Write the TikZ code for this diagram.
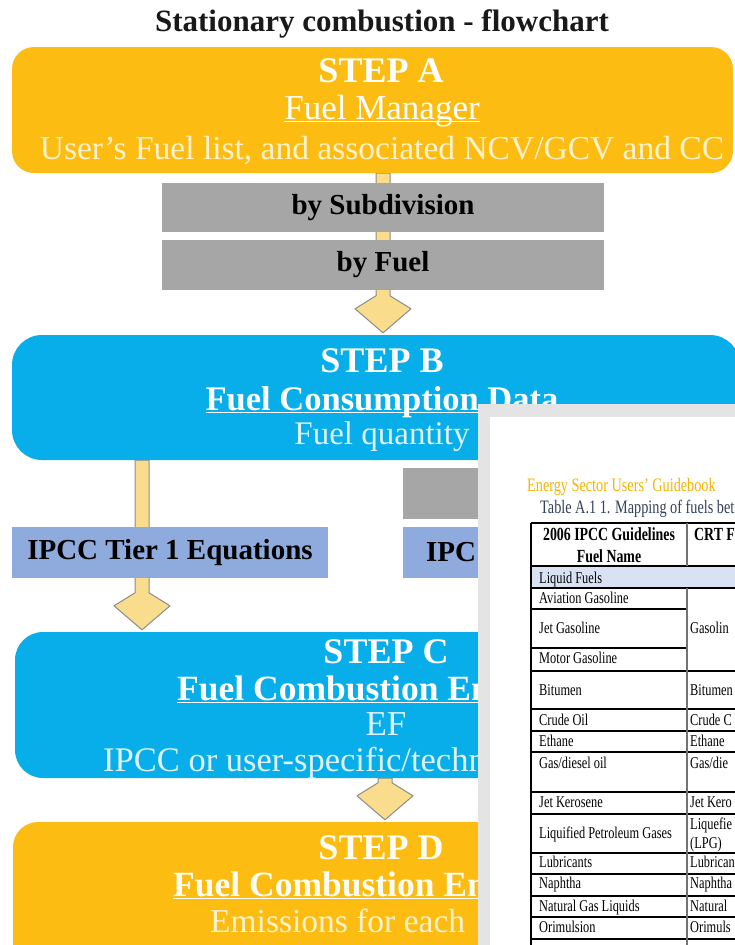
\documentclass[tikz,border=0pt]{standalone}
\usepackage{fontspec}
\setmainfont{Liberation Serif}
\newfontfamily\tabfont[FakeStretch=0.75]{Liberation Serif}
\usetikzlibrary{calc,backgrounds}
\definecolor{cstepy}{HTML}{FDBC12}
\definecolor{cstepb}{HTML}{08AEEA}
\definecolor{cbar}{HTML}{A6A6A6}
\definecolor{ceq}{HTML}{8FAADC}
\definecolor{carrow}{HTML}{F9DC8C}
\definecolor{carrowln}{HTML}{8C8C8C}
\definecolor{ccream}{HTML}{FFF2CC}
\definecolor{cpale}{HTML}{DDF2FC}
\definecolor{cpanel}{HTML}{E4E4E4}
\definecolor{cguide}{HTML}{F5B400}
\definecolor{ccapt}{HTML}{33415C}
\definecolor{crowfill}{HTML}{D9E2F3}
\newcommand{\ulbar}[1]{\sbox0{#1}\rlap{\rule[-3pt]{\wd0}{1.4pt}}\usebox0}
\tikzset{
  stepbox/.style={rounded corners=24pt, inner sep=0pt, draw=none},
  steptitle/.style={anchor=base, inner sep=0pt, font=\fontsize{36}{36}\selectfont\bfseries, text=white},
  stepline/.style={anchor=base, inner sep=0pt, font=\fontsize{34}{34}\selectfont},
  bar/.style={fill=cbar, minimum width=442pt, inner sep=0pt, font=\fontsize{29}{29}\selectfont\bfseries},
  eqn/.style={fill=ceq, minimum width=316pt, minimum height=51pt, inner sep=0pt, font=\fontsize{29}{29}\selectfont\bfseries},
  blk/.style={draw=carrowln, fill=carrow, line width=1pt, line join=round, to path={
    ($(\tikztostart)+(-7,0)$) -- ($(\tikztotarget)+(-7,-39)$) -- ($(\tikztotarget)+(-28,-26)$)
    -- ($(\tikztotarget)+(0,-2)$) -- ($(\tikztotarget)+(28,-26)$) -- ($(\tikztotarget)+(7,-39)$)
    -- ($(\tikztostart)+(7,0)$) -- cycle}},
  cell/.style={anchor=base west, inner sep=0pt, font=\tabfont\fontsize{16.5}{16.5}\selectfont},
  hcell/.style={anchor=base, inner sep=0pt, font=\tabfont\fontsize{18.5}{18.5}\selectfont\bfseries},
  tline/.style={line width=1.3pt},
}

\begin{document}
\begin{tikzpicture}[x=1pt,y=-1pt]
\useasboundingbox (0,0) rectangle (735,945);
\clip (0,0) rectangle (735,945);

\node[anchor=base, inner sep=0pt, font=\fontsize{31}{31}\selectfont\bfseries, text=black!90] (ttl) at (382,31) {Stationary combustion - flowchart};

% step A and the two grey bars
\node[stepbox, rounded corners=22pt, fill=cstepy, minimum width=721pt, minimum height=126pt] (sa) at (372.5,110) {};
\node[steptitle] (sat) at (381,82) {STEP A};
\node[stepline, font=\fontsize{35}{35}\selectfont, text=white] (sam) at (382,119) {\ulbar{Fuel Manager}};
\node[stepline, font=\fontsize{33.5}{33.5}\selectfont, text=ccream] (sal) at (382,159) {User’s Fuel list, and associated NCV/GCV and CC};
\node[bar, minimum height=49pt] (sub) at (383,207.5) {by Subdivision};
\node[bar, minimum height=50pt] (bf) at (383,265) {by Fuel};

% step B
\node[stepbox, rounded corners=30pt, fill=cstepb, minimum width=728pt, minimum height=125pt] (sb) at (376,397.5) {};
\node[steptitle] (sbt) at (382,372) {STEP B};
\node[stepline, font=\fontsize{34.5}{34.5}\selectfont\bfseries, text=white] (sbm) at (382,410) {\ulbar{Fuel Consumption Data}};
\node[stepline, font=\fontsize{33}{33}\selectfont, text=cpale] (sbl) at (382,444) {Fuel quantity};

% tier boxes
\coordinate (lx) at (142,0);
\node[eqn] (t1) at (170,552.5) {IPCC Tier 1 Equations};
\node[fill=cbar, minimum width=316pt, minimum height=51pt] (gr) at (561,493.5) {};
\node[eqn, text width=270pt, align=left] (t2) at (561,552.5) {IPC};

% step C
\node[stepbox, rounded corners=28pt, fill=cstepb, minimum width=740pt, minimum height=146pt] (sc) at (385,705) {};
\node[steptitle] (sct) at (386,663) {STEP C};
\node[stepline, anchor=base west, font=\fontsize{35.5}{35.5}\selectfont\bfseries, text=white] (scm) at (177,700) {\ulbar{Fuel Combustion Em}};
\node[stepline, font=\fontsize{35}{35}\selectfont, text=cpale] (scf) at (386,735) {EF};
\node[stepline, anchor=base west, font=\fontsize{34.5}{34.5}\selectfont, text=cpale] (scl) at (103,771) {IPCC or user-specific/techn};

% step D
\node[stepbox, rounded corners=25pt, fill=cstepy, minimum width=744pt, minimum height=148pt] (sd) at (385,896) {};
\node[steptitle, text=white!96!yellow] (sdt) at (381,859) {STEP D};
\node[stepline, anchor=base west, font=\fontsize{35.5}{35.5}\selectfont\bfseries, text=white!96!yellow] (sdm) at (173,896) {\ulbar{Fuel Combustion Em}};
\node[stepline, anchor=base west, font=\fontsize{33.5}{33.5}\selectfont, text=ccream] (sdl) at (210,932) {Emissions for each};

% block arrows behind the boxes
\begin{scope}[on background layer]
\fill[white] (0,0) rectangle (735,945);
\draw[blk] (sa.south -| bf) to (sb.north -| bf);
\draw[blk] (sb.south -| lx) to (sc.north -| lx);
\draw[blk] (sc.south) to (sd.north);
\end{scope}

% guidebook page laid over the chart
\fill[cpanel] (478,404) rectangle (740,950);
\fill[white] (490,417) rectangle (740,950);
\node[cell, font=\tabfont\fontsize{19}{19}\selectfont, text=cguide] (guide) at (527,491) {Energy Sector Users’ Guidebook};
\node[cell, font=\tabfont\fontsize{19}{19}\selectfont, text=ccapt] (capt) at (540,513) {Table A.1 1. Mapping of fuels bet};

\fill[crowfill] (531,566) rectangle (740,588);
\foreach \y in {523,566,588,671,709,731,752,792,814,853,874,896,917,939}
  \draw[tline] (531,\y) -- (740,\y);
\foreach \y in {609,648}
  \draw[tline] (531,\y) -- (687,\y);
\draw[tline] (531,523) -- (531,950);
\draw[tline, draw=black!55] (687,523) -- (687,566) (687,588) -- (687,950);

\node[hcell] (h1) at (609,540) {2006 IPCC Guidelines};
\node[hcell] (h2) at (609,562) {Fuel Name};
\node[hcell, anchor=base west] (h3) at (694,540) {CRT F};

\foreach \y/\txt [count=\i] in {583/Liquid Fuels, 603/Aviation Gasoline, 633/Jet Gasoline,
    663/Motor Gasoline, 695/Bitumen, 725/Crude Oil, 746/Ethane, 768/{Gas/diesel oil},
    807/Jet Kerosene, 838/Liquified Petroleum Gases, 867/Lubricants, 888/Naphtha,
    911/Natural Gas Liquids, 932/Orimulsion}
  \node[cell] (l\i) at (539,\y) {\txt};
\foreach \y/\txt [count=\i] in {633/Gasolin, 695/Bitumen, 725/Crude C, 746/Ethane,
    768/{Gas/die}, 807/Jet Kero, 829/Liquefie, 848/(LPG), 867/Lubrican, 888/Naphtha,
    911/Natural, 932/Orimuls}
  \node[cell] (r\i) at (690,\y) {\txt};
\end{tikzpicture}
\end{document}
